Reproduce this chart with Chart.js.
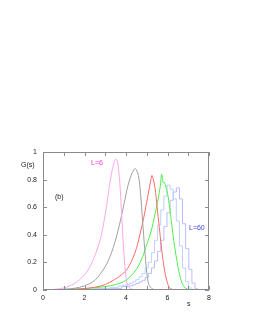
<!DOCTYPE html>
<html>
<head>
<meta charset="utf-8">
<script src="https://cdn.jsdelivr.net/npm/chart.js@4.4.0/dist/chart.umd.min.js"></script>
<style>
	html, body { margin: 0; padding: 0; background: #fff; }
	canvas { display: block; }
</style>
</head>
<body>
<canvas id="chartG" width="253" height="327"></canvas>
<script>
// G(s) curves
const sL6 = [0, 0.5, 1, 1.5, 2, 2.3, 2.6, 2.8, 3, 3.2, 3.35, 3.5, 3.6, 3.7, 3.8, 3.9, 4, 4.1, 4.3, 4.6];
const gL6 = [0, 0.004, 0.015, 0.045, 0.11, 0.18, 0.29, 0.39, 0.55, 0.75, 0.88, 0.95, 0.92, 0.78, 0.52, 0.26, 0.09, 0.03, 0.005, 0];

const sGray = [0, 1, 1.5, 2, 2.5, 3, 3.3, 3.6, 3.9, 4.1, 4.3, 4.45, 4.6, 4.7, 4.8, 4.9, 5, 5.1, 5.3, 5.6];
const gGray = [0, 0.005, 0.012, 0.03, 0.07, 0.17, 0.27, 0.42, 0.62, 0.76, 0.85, 0.88, 0.83, 0.7, 0.5, 0.3, 0.13, 0.04, 0.005, 0];

const sRed = [0, 1.5, 2.5, 3, 3.5, 4, 4.3, 4.5, 4.7, 4.85, 5, 5.1, 5.2, 5.25, 5.3, 5.4, 5.5, 5.6, 5.7, 5.8, 5.9, 6, 6.1, 6.3];
const gRed = [0, 0.005, 0.02, 0.04, 0.08, 0.14, 0.22, 0.3, 0.42, 0.52, 0.64, 0.72, 0.8, 0.83, 0.81, 0.74, 0.6, 0.46, 0.32, 0.2, 0.11, 0.05, 0.015, 0];

const sGreen = [0, 2, 3, 3.5, 4, 4.5, 4.8, 5, 5.2, 5.4, 5.55, 5.65, 5.72, 5.78, 5.85, 6, 6.1, 6.2, 6.3, 6.4, 6.5, 6.6, 6.7, 6.85, 7.05];
const gGreen = [0, 0.01, 0.025, 0.04, 0.07, 0.15, 0.24, 0.33, 0.42, 0.55, 0.66, 0.75, 0.84, 0.78, 0.78, 0.7, 0.6, 0.48, 0.36, 0.26, 0.17, 0.1, 0.05, 0.015, 0];

const sBlue1 = [0, 2, 3, 3.5, 3.8, 3.95, 4.1, 4.25, 4.4, 4.55, 4.7, 4.85, 5, 5.15, 5.3, 5.45, 5.6, 5.75, 5.9, 6.05, 6.2, 6.35, 6.5, 6.65, 6.8, 6.95, 7.1, 7.25];
const gBlue1 = [0, 0.005, 0.012, 0.02, 0.03, 0.035, 0.04, 0.05, 0.06, 0.075, 0.095, 0.12, 0.16, 0.2, 0.27, 0.36, 0.47, 0.58, 0.68, 0.76, 0.73, 0.66, 0.5, 0.32, 0.16, 0.06, 0.015, 0];

const sBlue2 = [0, 2, 3, 3.5, 4.1, 4.25, 4.4, 4.55, 4.7, 4.85, 5, 5.15, 5.3, 5.45, 5.6, 5.75, 5.9, 6.05, 6.2, 6.35, 6.5, 6.65, 6.8, 6.95, 7.1, 7.25, 7.4, 7.5];
const gBlue2 = [0, 0.004, 0.008, 0.012, 0.025, 0.03, 0.038, 0.047, 0.058, 0.07, 0.09, 0.12, 0.16, 0.21, 0.28, 0.36, 0.46, 0.56, 0.65, 0.71, 0.74, 0.66, 0.48, 0.3, 0.15, 0.05, 0.01, 0];

const xTicks = [0, 2, 4, 6, 8];
const yTicks = [0, 0.2, 0.4, 0.6, 0.8, 1];

const toPoints = (xs, ys) => xs.map((x, i) => ({ x: x, y: ys[i] }));

const frameTicks = {
	id: "frameTicks",
	afterDraw: (chart) => {
		const { ctx, chartArea: a, scales } = chart;
		ctx.save();
		ctx.strokeStyle = "#8a8a8a";
		ctx.lineWidth = 1;
		ctx.strokeRect(a.left + 0.5, a.top + 0.5, a.right - a.left - 1, a.bottom - a.top - 1);
		ctx.beginPath();
		for (let s = 0; s <= 8; s++) {
			const px = Math.round(scales.x.getPixelForValue(s)) + 0.5;
			ctx.moveTo(px, a.bottom);
			ctx.lineTo(px, a.bottom - 4);
			ctx.moveTo(px, a.top);
			ctx.lineTo(px, a.top + 4);
		}
		yTicks.forEach((v) => {
			const py = Math.round(scales.y.getPixelForValue(v)) + 0.5;
			ctx.moveTo(a.left, py);
			ctx.lineTo(a.left + 4, py);
			ctx.moveTo(a.right, py);
			ctx.lineTo(a.right - 4, py);
		});
		ctx.stroke();

		ctx.font = "7px 'Liberation Sans', sans-serif";
		ctx.textBaseline = "middle";
		ctx.fillStyle = "#222";
		ctx.fillText("G(s)", 21, 165);
		ctx.fillText("s", 187, 304);
		ctx.fillText("(b)", 55, 197);
		ctx.fillStyle = "#ff33cc";
		ctx.fillText("L=6", 91, 163);
		ctx.fillStyle = "#4444dd";
		ctx.fillText("L=60", 189, 228);
		ctx.restore();
	},
};

const line = (label, xs, ys, color, stepped) => ({
	label: label,
	data: toPoints(xs, ys),
	borderColor: color,
	borderWidth: 1,
	pointRadius: 0,
	showLine: true,
	stepped: stepped ? "middle" : false,
	tension: stepped ? 0 : 0.3,
});

const tickFont = { family: "'Liberation Sans', sans-serif", size: 7 };

new Chart(document.getElementById("chartG"), {
	type: "scatter",
	data: {
		datasets: [
			line("L=6", sL6, gL6, "#ffa6ec", false),
			line("gray", sGray, gGray, "#a0a0a0", false),
			line("red", sRed, gRed, "#ff6a6a", false),
			line("green", sGreen, gGreen, "#4cf04c", false),
			line("blue1", sBlue1, gBlue1, "#bcd2ff", true),
			line("L=60", sBlue2, gBlue2, "#b8bcff", true),
		],
	},
	options: {
		responsive: false,
		animation: false,
		layout: { padding: { top: 152, right: 44, left: 0, bottom: 0 } },
		plugins: { legend: { display: false }, tooltip: { enabled: false } },
		scales: {
			x: {
				type: "linear",
				min: 0,
				max: 8,
				afterFit: (scale) => { scale.height = 37; },
				afterBuildTicks: (scale) => { scale.ticks = xTicks.map((v) => ({ value: v })); },
				grid: { display: false, drawTicks: false },
				border: { display: false },
				ticks: { padding: 4, color: "#222", font: tickFont, callback: (v) => String(v) },
			},
			y: {
				type: "linear",
				min: 0,
				max: 1,
				afterFit: (scale) => { scale.width = 43; },
				afterBuildTicks: (scale) => { scale.ticks = yTicks.map((v) => ({ value: v })); },
				grid: { display: false, drawTicks: false },
				border: { display: false },
				ticks: { padding: 6, color: "#222", font: tickFont, callback: (v) => String(v) },
			},
		},
	},
	plugins: [frameTicks],
});
</script>
</body>
</html>
